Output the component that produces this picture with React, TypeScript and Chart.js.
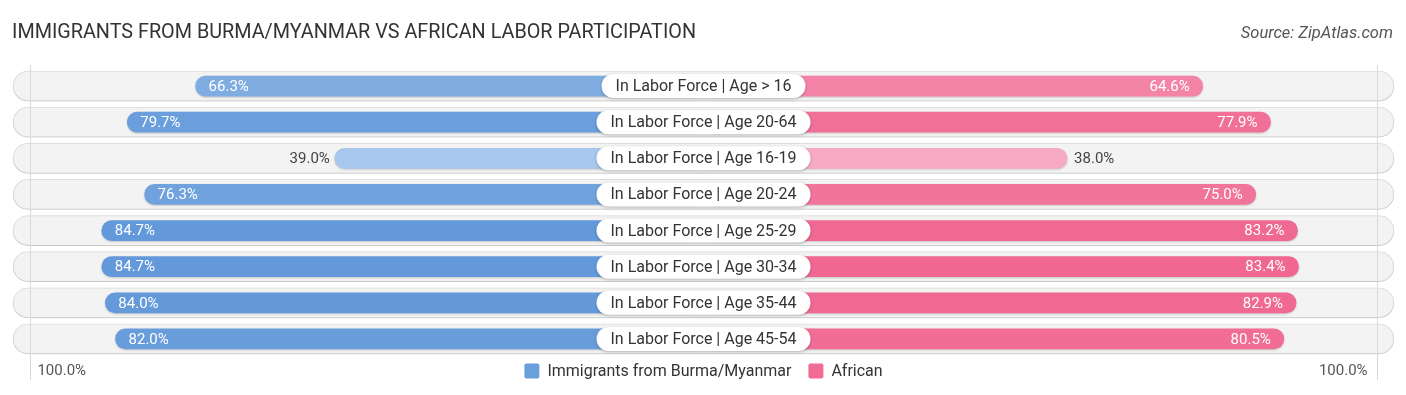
import React, { useEffect, useRef } from "react";
import { Chart, registerables } from "chart.js";

Chart.register(...registerables);

const TITLE = "IMMIGRANTS FROM BURMA/MYANMAR VS AFRICAN LABOR PARTICIPATION";
const SOURCE = "Source: ZipAtlas.com";
const categories = [
  "In Labor Force | Age > 16",
  "In Labor Force | Age 20-64",
  "In Labor Force | Age 16-19",
  "In Labor Force | Age 20-24",
  "In Labor Force | Age 25-29",
  "In Labor Force | Age 30-34",
  "In Labor Force | Age 35-44",
  "In Labor Force | Age 45-54",
];
const burmaValues = [66.3, 79.7, 39.0, 76.3, 84.7, 84.7, 84.0, 82.0];
const africanValues = [64.6, 77.9, 38.0, 75.0, 83.2, 83.4, 82.9, 80.5];
const seriesNames = ["Immigrants from Burma/Myanmar", "African"];
const axisEndLabels = ["100.0%", "100.0%"];

// layout constants (scale units are percent)
const OFF = 33.3; // space reserved under the centre label
const X_MAX = 136;
const TRACK = 135.4;
const GRID_VALUE = 132;

const BLUE_LIGHT = [170, 200, 236];
const BLUE_DARK = [99, 153, 218];
const PINK_LIGHT = [247, 170, 196];
const PINK_DARK = [240, 102, 144];

function mix(a: number[], b: number[], v: number) {
  let t = (v - 38) / (85 - 38);
  t = Math.max(0, Math.min(1, t));
  const c = a.map((x, i) => Math.round(x + (b[i] - x) * t));
  return `rgb(${c[0]},${c[1]},${c[2]})`;
}

const FONT = "Roboto, 'Noto Sans', sans-serif";

function roundRect(ctx: CanvasRenderingContext2D, x: number, y: number, w: number, h: number, r: number) {
  ctx.beginPath();
  ctx.moveTo(x + r, y);
  ctx.lineTo(x + w - r, y);
  ctx.arcTo(x + w, y, x + w, y + r, r);
  ctx.lineTo(x + w, y + h - r);
  ctx.arcTo(x + w, y + h, x + w - r, y + h, r);
  ctx.lineTo(x + r, y + h);
  ctx.arcTo(x, y + h, x, y + h - r, r);
  ctx.lineTo(x, y + r);
  ctx.arcTo(x, y, x + r, y, r);
  ctx.closePath();
}

const decorPlugin = {
  id: "decor",
  beforeDatasetDraw(chart: any, args: any) {
    const ctx = chart.ctx;
    ctx.save();
    if (args.index === 0 || args.index === 1) {
      ctx.shadowColor = "rgba(0,0,0,0.18)";
      ctx.shadowBlur = 2;
      ctx.shadowOffsetY = 1;
    } else {
      ctx.shadowColor = "rgba(0,0,0,0.12)";
      ctx.shadowBlur = 2;
      ctx.shadowOffsetY = 1;
    }
  },
  afterDatasetDraw(chart: any) {
    chart.ctx.restore();
  },
  afterDatasetsDraw(chart: any) {
    const ctx: CanvasRenderingContext2D = chart.ctx;
    const xs = chart.scales.x;
    const ys = chart.scales.y;
    const cx = xs.getPixelForValue(0);

    // vertical guide lines
    ctx.save();
    ctx.strokeStyle = "#d9d9d9";
    ctx.lineWidth = 1;
    [-GRID_VALUE, GRID_VALUE].forEach((v) => {
      const px = Math.round(xs.getPixelForValue(v)) + 0.5;
      ctx.beginPath();
      ctx.moveTo(px, chart.chartArea.top - 3);
      ctx.lineTo(px, chart.chartArea.bottom + 23);
      ctx.stroke();
    });
    ctx.restore();

    // value labels
    ctx.save();
    ctx.font = `15px ${FONT}`;
    ctx.textBaseline = "middle";
    categories.forEach((_, i) => {
      const y = ys.getPixelForValue(i);
      const bv = burmaValues[i];
      const bStart = xs.getPixelForValue(-(bv + OFF));
      const label1 = bv.toFixed(1) + "%";
      if (bv > 50) {
        ctx.fillStyle = "#ffffff";
        ctx.textAlign = "left";
        ctx.fillText(label1, bStart + 13, y + 1);
      } else {
        ctx.fillStyle = "#444444";
        ctx.textAlign = "right";
        ctx.fillText(label1, bStart - 5, y + 1);
      }
      const av = africanValues[i];
      const aEnd = xs.getPixelForValue(av + OFF);
      const label2 = av.toFixed(1) + "%";
      if (av > 50) {
        ctx.fillStyle = "#ffffff";
        ctx.textAlign = "right";
        ctx.fillText(label2, aEnd - 13, y + 1);
      } else {
        ctx.fillStyle = "#444444";
        ctx.textAlign = "left";
        ctx.fillText(label2, aEnd + 7, y + 1);
      }
    });
    ctx.restore();

    // centre category labels
    ctx.save();
    ctx.font = `16px ${FONT}`;
    categories.forEach((c, i) => {
      const y = ys.getPixelForValue(i);
      const tw = ctx.measureText(c).width;
      const w = tw + 28;
      const h = 24;
      ctx.save();
      ctx.shadowColor = "rgba(0,0,0,0.25)";
      ctx.shadowBlur = 3;
      ctx.shadowOffsetY = 1;
      ctx.fillStyle = "#ffffff";
      roundRect(ctx, cx - w / 2, y - h / 2, w, h, 12);
      ctx.fill();
      ctx.restore();
      ctx.fillStyle = "#333333";
      ctx.textAlign = "center";
      ctx.textBaseline = "middle";
      ctx.fillText(c, cx, y + 1);
    });
    ctx.restore();
  },
  afterDraw(chart: any) {
    const ctx: CanvasRenderingContext2D = chart.ctx;
    const xs = chart.scales.x;
    const cx = xs.getPixelForValue(0);
    ctx.save();
    // title
    ctx.font = `19.8px ${FONT}`;
    ctx.fillStyle = "#333333";
    ctx.textAlign = "left";
    ctx.textBaseline = "middle";
    ctx.fillText(TITLE, 12, 33);
    // source
    ctx.font = `italic 16.5px ${FONT}`;
    ctx.fillStyle = "#555555";
    ctx.textAlign = "right";
    ctx.fillText(SOURCE, 1393, 34);

    // axis end labels
    const by = chart.chartArea.bottom + 14;
    ctx.font = `15px ${FONT}`;
    ctx.fillStyle = "#555555";
    ctx.textAlign = "left";
    ctx.fillText(axisEndLabels[0], xs.getPixelForValue(-GRID_VALUE) + 7, by);
    ctx.textAlign = "right";
    ctx.fillText(axisEndLabels[1], xs.getPixelForValue(GRID_VALUE) - 9, by);

    // legend
    ctx.font = `16px ${FONT}`;
    const colors = [mix(BLUE_LIGHT, BLUE_DARK, 80), mix(PINK_LIGHT, PINK_DARK, 80)];
    const sq = 15;
    const gapText = 8;
    const gapItem = 17;
    const widths = seriesNames.map((n) => ctx.measureText(n).width);
    const total = widths.reduce((s, w) => s + sq + gapText + w, 0) + gapItem;
    let x = cx - total / 2;
    seriesNames.forEach((n, i) => {
      ctx.fillStyle = colors[i];
      roundRect(ctx, x, by - sq / 2, sq, sq, 2);
      ctx.fill();
      x += sq + gapText;
      ctx.fillStyle = "#333333";
      ctx.textAlign = "left";
      ctx.fillText(n, x, by + 1);
      x += widths[i] + gapItem;
    });
    ctx.restore();
  },
};

export default function App() {
  const ref = useRef<HTMLCanvasElement | null>(null);
  useEffect(() => {
    if (!ref.current) return;
    const chart = new Chart(ref.current, {
      type: "bar",
      data: {
        labels: categories,
        datasets: [
          {
            label: seriesNames[0],
            data: burmaValues.map((v) => [-(v + OFF), 0]) as any,
            backgroundColor: burmaValues.map((v) => mix(BLUE_LIGHT, BLUE_DARK, v)),
            barThickness: 20,
            borderRadius: 10,
            borderSkipped: false,
            grouped: false,
            order: 1,
          } as any,
          {
            label: seriesNames[1],
            data: africanValues.map((v) => [0, v + OFF]) as any,
            backgroundColor: africanValues.map((v) => mix(PINK_LIGHT, PINK_DARK, v)),
            barThickness: 20,
            borderRadius: 10,
            borderSkipped: false,
            grouped: false,
            order: 1,
          } as any,
          {
            label: "track",
            data: categories.map(() => [-TRACK, TRACK]) as any,
            backgroundColor: "#f3f3f3",
            borderColor: "#dedede",
            borderWidth: 1,
            barThickness: 30,
            borderRadius: 15,
            borderSkipped: false,
            grouped: false,
            order: 3,
          } as any,
        ],
      },
      options: {
        indexAxis: "y",
        animation: false,
        responsive: false,
        maintainAspectRatio: false,
        layout: { padding: { left: 10, right: 9, top: 68, bottom: 38 } },
        scales: {
          x: { type: "linear", min: -X_MAX, max: X_MAX, display: false },
          y: { type: "category", display: false, offset: true },
        },
        plugins: {
          legend: { display: false },
          tooltip: { enabled: false },
          title: { display: false },
        },
      },
      plugins: [decorPlugin],
    });
    return () => chart.destroy();
  }, []);
  return (
    <div style={{ position: "fixed", left: 0, top: 0, width: 1406, height: 395, background: "#ffffff" }}>
      <canvas ref={ref} width={1406} height={395} style={{ width: 1406, height: 395, display: "block" }} />
    </div>
  );
}
